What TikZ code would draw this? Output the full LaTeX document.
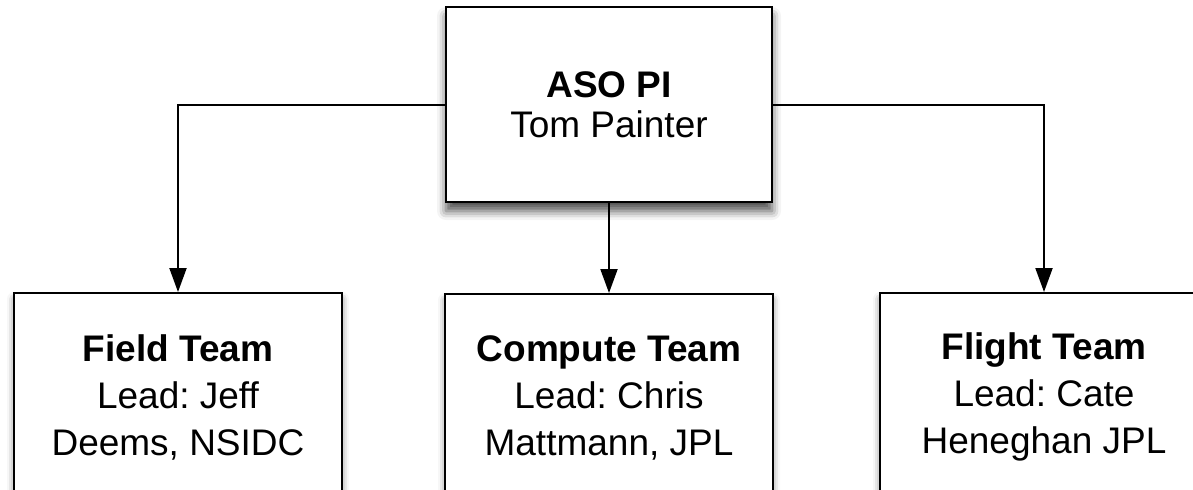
\documentclass[tikz,border=0pt]{standalone}
\usepackage{fontspec}
\setmainfont{Liberation Sans}
\usetikzlibrary{arrows.meta,shadows.blur}
\frenchspacing
\begin{document}
\begin{tikzpicture}[x=0.5pt,y=-0.5pt,
  box/.style={draw=black,line width=1pt,fill=white,align=center,inner sep=0pt},
  topbox/.style={box,minimum width=163pt,minimum height=97.5pt,font=\fontsize{18.5}{20}\selectfont,
    blur shadow={shadow xshift=0pt,shadow yshift=-4.5pt,shadow blur radius=4.5pt,shadow opacity=70}},
  teambox/.style={box,minimum width=164pt,minimum height=104pt,font=\fontsize{18.5}{23.5}\selectfont,
    blur shadow={shadow xshift=0pt,shadow yshift=-3pt,shadow blur radius=3.5pt,shadow opacity=50}},
  conn/.style={line width=1pt,-{Triangle[length=12pt,width=8.5pt]}}]
\path[use as bounding box] (0,0) rectangle (1193,489);
\clip (0,0) rectangle (1193,489);
\node[topbox] (pi) at (609,104.5) {\textbf{ASO PI}\\Tom Painter};
\node[teambox] (field) at (178,397) {\textbf{Field Team}\\Lead: Jeff\\Deems, NSIDC};
\node[teambox] (compute) at (609,398) {\textbf{Compute Team}\\Lead: Chris\\Mattmann, JPL};
\node[teambox] (flight) at (1044,397) {\textbf{Flight Team}\\Lead: Cate\\Heneghan JPL};
\draw[conn] (pi.west) -| (field.north);
\draw[conn] (pi.south) -- (compute.north);
\draw[conn] (pi.east) -| (flight.north);
\end{tikzpicture}
\end{document}
